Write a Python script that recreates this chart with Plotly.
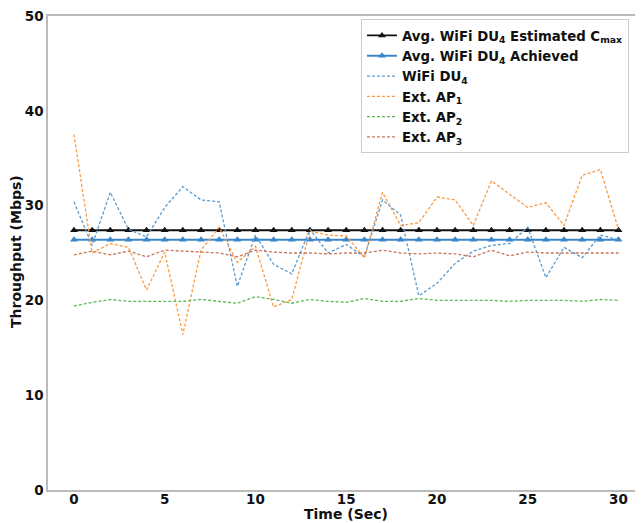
import plotly.graph_objects as go

time_sec = list(range(31))

avg_est_cmax = [27.4] * 31
avg_achieved = [26.4] * 31

wifi_du4 = [30.4, 25.8, 31.4, 27.5, 26.7, 29.8, 32.0, 30.6, 30.4, 21.5, 26.9,
            23.8, 22.8, 27.5, 25.0, 25.9, 24.6, 30.6, 29.0, 20.5, 21.8,
            23.9, 25.2, 25.8, 26.0, 27.7, 22.4, 25.6, 24.5, 26.9, 26.4]
ext_ap1 = [37.5, 25.0, 26.0, 25.6, 21.1, 25.1, 16.4, 25.3, 27.7, 24.0, 25.7,
           19.3, 20.1, 27.3, 26.9, 26.8, 24.5, 31.4, 27.9, 28.2, 30.9,
           30.6, 27.9, 32.6, 31.2, 29.8, 30.3, 27.9, 33.2, 33.8, 27.5]
ext_ap2 = [19.4, 19.8, 20.1, 19.9, 19.9, 19.9, 19.9, 20.1, 19.9, 19.7, 20.4,
           20.1, 19.7, 20.1, 19.9, 19.8, 20.2, 19.9, 19.9, 20.2, 20.0,
           20.0, 20.0, 20.0, 19.9, 20.0, 20.0, 20.0, 19.9, 20.1, 20.0]
ext_ap3 = [24.8, 25.2, 24.8, 25.2, 24.6, 25.3, 25.2, 25.1, 25.0, 24.6, 25.3,
           25.1, 25.0, 25.0, 24.9, 25.0, 25.0, 25.3, 25.0, 24.9, 25.0,
           24.9, 24.6, 25.3, 24.7, 25.1, 25.0, 25.0, 25.0, 25.0, 25.0]

x_ticks = [0, 5, 10, 15, 20, 25, 30]
y_ticks = [0, 10, 20, 30, 40, 50]

FONT = "DejaVu Sans"
dash = "3px,2px"

fig = go.Figure()
fig.add_trace(go.Scatter(
    x=time_sec, y=avg_est_cmax, mode="lines+markers",
    name="Avg. WiFi DU<sub>4</sub> Estimated C<sub>max</sub>",
    line=dict(color="#111111", width=1.8),
    marker=dict(symbol="triangle-up", size=7, color="#111111")))
fig.add_trace(go.Scatter(
    x=time_sec, y=avg_achieved, mode="lines+markers",
    name="Avg. WiFi DU<sub>4</sub> Achieved",
    line=dict(color="#3a86c8", width=1.8),
    marker=dict(symbol="triangle-up", size=7, color="#3a86c8")))
fig.add_trace(go.Scatter(
    x=time_sec, y=wifi_du4, mode="lines", name="WiFi DU<sub>4</sub>",
    line=dict(color="#5b9bd0", width=1.3, dash=dash)))
fig.add_trace(go.Scatter(
    x=time_sec, y=ext_ap1, mode="lines", name="Ext. AP<sub>1</sub>",
    line=dict(color="#fd9a3f", width=1.3, dash=dash)))
fig.add_trace(go.Scatter(
    x=time_sec, y=ext_ap2, mode="lines", name="Ext. AP<sub>2</sub>",
    line=dict(color="#5cb85a", width=1.3, dash=dash)))
fig.add_trace(go.Scatter(
    x=time_sec, y=ext_ap3, mode="lines", name="Ext. AP<sub>3</sub>",
    line=dict(color="#c8765c", width=1.3, dash=dash)))

fig.update_layout(
    width=643, height=523,
    margin=dict(l=40, r=8, t=8, b=41, autoexpand=False),
    plot_bgcolor="white", paper_bgcolor="white",
    font=dict(family=FONT, size=13, color="#111111", weight="bold"),
    showlegend=True,
    legend=dict(
        x=0.526, y=0.993, xanchor="left", yanchor="top",
        bgcolor="white", bordercolor="#cccccc", borderwidth=1,
        font=dict(family=FONT, size=13.3, color="#111111", weight="bold"),
        tracegroupgap=0, itemwidth=30,
    ),
    annotations=[
        dict(text="Time (Sec)", xref="paper", yref="paper",
             x=(346 - 48) / 595, y=-(514 - 490) / 474,
             xanchor="center", yanchor="middle", showarrow=False,
             font=dict(family=FONT, size=14, weight="bold")),
        dict(text="Throughput (Mbps)", xref="paper", yref="paper",
             x=-(48 - 16) / 595, y=(490 - 252) / 474, textangle=-90,
             xanchor="center", yanchor="middle", showarrow=False,
             font=dict(family=FONT, size=14, weight="bold")),
    ],
)
fig.update_xaxes(
    range=[-1.43, 31.35], tickvals=x_ticks, ticktext=[str(v) for v in x_ticks],
    showgrid=False, zeroline=False, showline=True, mirror=True,
    linecolor="#bbbbbb", linewidth=1.5, automargin=False,
    ticks="", ticklabelstandoff=-4, ticklabeloverflow="allow",
    tickfont=dict(family=FONT, size=13.5, weight="bold"),
)
fig.update_yaxes(
    range=[0, 50], tickvals=y_ticks, ticktext=[str(v) for v in y_ticks],
    showgrid=False, zeroline=False, showline=True, mirror=False,
    linecolor="#bbbbbb", linewidth=1.5, automargin=False,
    ticks="", ticklabelstandoff=0, ticklabeloverflow="allow",
    tickfont=dict(family=FONT, size=13.5, weight="bold"),
)

fig.write_html("out.html")
